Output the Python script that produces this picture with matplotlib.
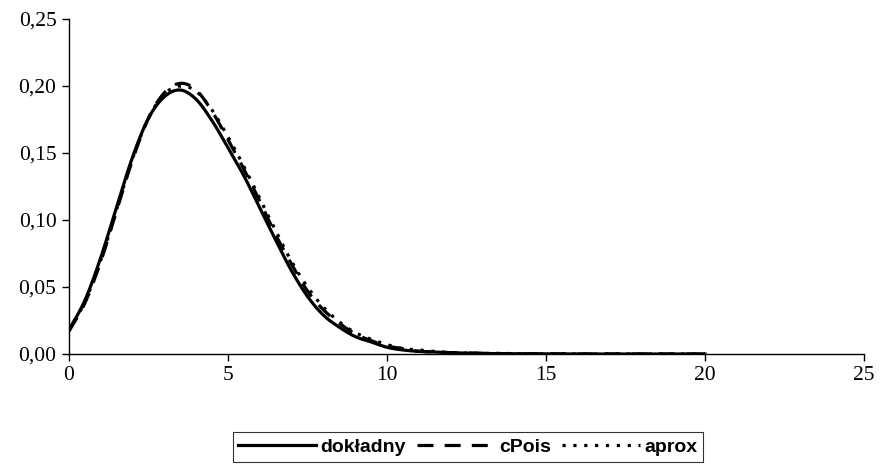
import numpy as np
import matplotlib.pyplot as plt
from matplotlib.ticker import FuncFormatter

# values
x = [0, 0.5, 1, 1.5, 2, 2.5, 3, 3.5, 4, 4.5, 5, 5.5, 6, 6.5, 7, 7.5, 8, 8.5, 9, 9.5,
     10, 10.5, 11, 12, 13, 14, 15, 16, 17, 18, 19, 20]
dokladny = [0.018, 0.040, 0.072, 0.110, 0.147, 0.176, 0.192, 0.197, 0.190, 0.174,
            0.154, 0.133, 0.109, 0.085, 0.062, 0.043, 0.029, 0.020, 0.013, 0.009,
            0.005, 0.003, 0.002, 0.001, 0.0004, 0.0002, 0.0001, 0, 0, 0, 0, 0]
cpois = [0.017, 0.038, 0.069, 0.107, 0.145, 0.176, 0.195, 0.202, 0.197, 0.181,
         0.160, 0.138, 0.114, 0.089, 0.067, 0.047, 0.033, 0.023, 0.015, 0.010,
         0.006, 0.004, 0.002, 0.001, 0.0005, 0.0002, 0.0001, 0, 0, 0, 0, 0]
aprox = [0.018, 0.039, 0.070, 0.108, 0.146, 0.176, 0.194, 0.200, 0.196, 0.182,
         0.162, 0.140, 0.116, 0.092, 0.069, 0.050, 0.035, 0.024, 0.016, 0.011,
         0.007, 0.004, 0.003, 0.001, 0.0005, 0.0002, 0.0001, 0, 0, 0, 0, 0]

xticks = [0, 5, 10, 15, 20, 25]
yticks = [0, 0.05, 0.10, 0.15, 0.20, 0.25]


def smooth(xs, ys, n=12):
    # Catmull-Rom drawing of the line through the points (like a smoothed line)
    xs = np.asarray(xs, float)
    ys = np.asarray(ys, float)
    px = np.concatenate([[2 * xs[0] - xs[1]], xs, [2 * xs[-1] - xs[-2]]])
    py = np.concatenate([[2 * ys[0] - ys[1]], ys, [2 * ys[-1] - ys[-2]]])
    ox, oy = [], []
    t = np.linspace(0, 1, n, endpoint=False)
    for i in range(1, len(px) - 2):
        for P, out in ((px, ox), (py, oy)):
            p0, p1, p2, p3 = P[i - 1], P[i], P[i + 1], P[i + 2]
            m1 = (p2 - p0) / 2
            m2 = (p3 - p1) / 2
            h00 = 2 * t**3 - 3 * t**2 + 1
            h10 = t**3 - 2 * t**2 + t
            h01 = -2 * t**3 + 3 * t**2
            h11 = t**3 - t**2
            out.extend(h00 * p1 + h10 * m1 + h01 * p2 + h11 * m2)
    ox.append(xs[-1])
    oy.append(ys[-1])
    return ox, oy


fig = plt.figure(figsize=(8.81, 4.68), dpi=100)
ax = fig.add_axes([0.0783, 0.2436, 0.9024, 0.7158])

ax.plot(*smooth(x, dokladny), color='black', lw=2.3, label='dokładny')
ax.plot(*smooth(x, cpois), color='black', lw=2.3, ls=(0, (5, 3.5)), label='cPois')
ax.plot(*smooth(x, aprox), color='black', lw=2.3, ls=(0, (1, 2.4)), label='aprox')

ax.set_xlim(0, 25)
ax.set_ylim(0, 0.25)
ax.set_xticks(xticks)
ax.set_yticks(yticks)
ax.yaxis.set_major_formatter(FuncFormatter(lambda v, p: f'{v:.2f}'.replace('.', ',')))
ax.spines['top'].set_visible(False)
ax.spines['right'].set_visible(False)
for s in ['left', 'bottom']:
    ax.spines[s].set_linewidth(1.0)
ax.tick_params(direction='out', length=5, width=1.0, labelsize=15.5, pad=4)
for lab in ax.get_xticklabels() + ax.get_yticklabels():
    lab.set_family('Liberation Serif')

leg = fig.legend(loc='center', bbox_to_anchor=(0.531, 0.045), ncol=3,
                 prop={'family': 'Liberation Sans', 'weight': 'bold', 'size': 14},
                 handlelength=4.0, handletextpad=0.2, columnspacing=0.6,
                 frameon=True, fancybox=False, borderpad=0.3, borderaxespad=0)
leg.get_frame().set_edgecolor('black')
leg.get_frame().set_linewidth(0.8)

fig.savefig('out.png', dpi=100)
